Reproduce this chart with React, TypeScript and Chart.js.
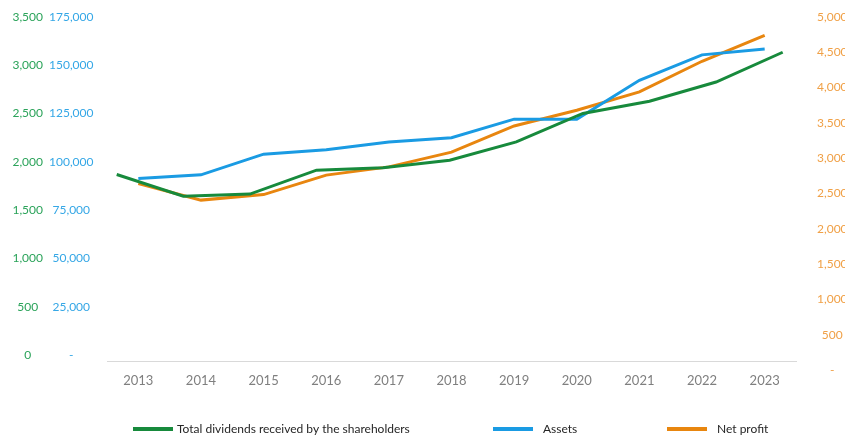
import React, { useEffect, useRef } from 'react';
import { Chart, registerables } from 'chart.js';

Chart.register(...registerables);

const years = ['2013', '2014', '2015', '2016', '2017', '2018', '2019', '2020', '2021', '2022', '2023'];
const dividends = [1869, 1645, 1666, 1914, 1938, 2017, 2207, 2501, 2628, 2827, 3135];
const assets = [91400, 93300, 104000, 106300, 110300, 112500, 122100, 122100, 142250, 155400, 158400];
const netProfit = [2642, 2406, 2484, 2760, 2877, 3085, 3457, 3680, 3939, 4373, 4741];

const dividendTicks = [0, 500, 1000, 1500, 2000, 2500, 3000, 3500];
const assetTicks = [0, 25000, 50000, 75000, 100000, 125000, 150000, 175000];
const profitTicks = [0, 500, 1000, 1500, 2000, 2500, 3000, 3500, 4000, 4500, 5000];

const legendLabels = ['Total dividends received by the shareholders', 'Assets', 'Net profit'];

const GREEN = '#178a3c';
const BLUE = '#1a9be3';
const ORANGE = '#e8860f';

const fmtNum = (v: number) => Number(v).toLocaleString('en-US');
const fmtDash = (v: number) => (Number(v) === 0 ? '-' : Number(v).toLocaleString('en-US'));

const legendPlugin = {
  id: 'customLegend',
  afterDraw(chart: any) {
    const ctx = chart.ctx;
    const sampleX = [133, 493, 667];
    const textX = [177, 543, 717];
    const y = 429;
    ctx.save();
    ctx.font = '12px Lato';
    ctx.textBaseline = 'middle';
    ctx.textAlign = 'left';
    legendLabels.forEach((label, i) => {
      const ds = chart.data.datasets[i];
      ctx.strokeStyle = ds.borderColor;
      ctx.lineWidth = 4;
      ctx.beginPath();
      ctx.moveTo(sampleX[i], y);
      ctx.lineTo(sampleX[i] + 40, y);
      ctx.stroke();
      ctx.fillStyle = '#262626';
      ctx.fillText(label, textX[i], y);
    });
    ctx.restore();
  },
};

const fixY = (width: number) => (s: any) => {
  s.width = width;
  s.paddingTop = 0;
  s.paddingBottom = 0;
};

export default function App() {
  const ref = useRef<HTMLCanvasElement | null>(null);

  useEffect(() => {
    if (!ref.current) return;
    const tickFont = { family: 'Lato', size: 12 };
    const noGrid = { display: false, drawTicks: false };
    const chart = new Chart(ref.current, {
      type: 'line',
      data: {
        labels: years,
        datasets: [
          {
            label: legendLabels[0],
            data: dividends.map((v, i) => ({ x: i, y: v })),
            borderColor: GREEN,
            backgroundColor: GREEN,
            borderWidth: 3,
            pointRadius: 0,
            tension: 0,
            xAxisID: 'x2',
            yAxisID: 'yG',
          },
          {
            label: legendLabels[1],
            data: assets,
            borderColor: BLUE,
            backgroundColor: BLUE,
            borderWidth: 3,
            pointRadius: 0,
            tension: 0,
            xAxisID: 'x',
            yAxisID: 'yB',
          },
          {
            label: legendLabels[2],
            data: netProfit,
            borderColor: ORANGE,
            backgroundColor: ORANGE,
            borderWidth: 3,
            pointRadius: 0,
            tension: 0,
            xAxisID: 'x',
            yAxisID: 'yO',
          },
        ],
      },
      options: {
        responsive: false,
        animation: false,
        layout: { padding: { top: 17, bottom: 48, left: 0, right: 0 } },
        plugins: {
          legend: { display: false },
          tooltip: { enabled: false },
        },
        scales: {
          x: {
            type: 'category',
            position: 'bottom',
            offset: true,
            grid: noGrid,
            border: { display: true, color: '#d9d9d9', width: 1 },
            ticks: { color: '#7f7f7f', font: { family: 'Lato', size: 13 }, padding: 12, maxRotation: 0, autoSkip: false },
            afterFit: (s: any) => { s.height = 30; },
          },
          x2: {
            type: 'linear',
            display: false,
            min: -0.146,
            max: 10.2,
          },
          yG: {
            type: 'linear',
            position: 'left',
            weight: 1,
            min: -62,
            max: 3500,
            grid: noGrid,
            border: { display: false },
            ticks: { color: '#2ba35a', font: tickFont, padding: 0, crossAlign: 'center', callback: (v: any) => fmtNum(v) },
            afterBuildTicks: (s: any) => { s.ticks = dividendTicks.map((v) => ({ value: v })); },
            afterFit: fixY(43),
          },
          yB: {
            type: 'linear',
            position: 'left',
            weight: 0,
            min: -3100,
            max: 175000,
            grid: noGrid,
            border: { display: false },
            ticks: { color: '#35a7e6', font: tickFont, padding: 13.5, crossAlign: 'center', callback: (v: any) => fmtDash(v) },
            afterBuildTicks: (s: any) => { s.ticks = assetTicks.map((v) => ({ value: v })); },
            afterFit: fixY(64),
          },
          yO: {
            type: 'linear',
            position: 'right',
            min: 127,
            max: 5000,
            grid: noGrid,
            border: { display: false },
            ticks: { color: '#f0a046', font: tickFont, padding: 21, crossAlign: 'center', callback: (v: any) => fmtDash(v) },
            afterBuildTicks: (s: any) => { s.ticks = profitTicks.map((v) => ({ value: v })); },
            afterFit: fixY(64),
          },
        },
      } as any,
      plugins: [legendPlugin],
    });
    return () => chart.destroy();
  }, []);

  return (
    <div style={{ position: 'absolute', left: 0, top: 0, width: 845, height: 439, overflow: 'hidden', background: '#fff' }}>
      <canvas ref={ref} width={860} height={439} style={{ width: 860, height: 439, display: 'block' }} />
    </div>
  );
}
